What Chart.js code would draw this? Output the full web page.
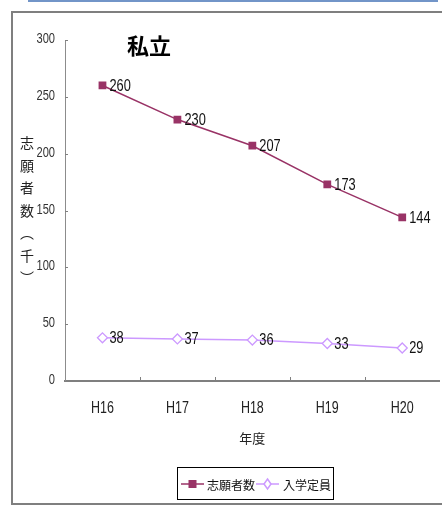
<!DOCTYPE html>
<html>
<head>
<meta charset="utf-8">
<script src="https://cdn.jsdelivr.net/npm/chart.js@4/dist/chart.umd.min.js"></script>
<style>
  html, body { margin: 0; padding: 0; background: #fff; overflow: hidden; }
  #wrap { width: 446px; height: 507px; }
</style>
</head>
<body>
<div id="wrap"><canvas id="c" width="446" height="507"></canvas></div>
<script>
// Fiscal years (Heisei)
const years = ['H16', 'H17', 'H18', 'H19', 'H20'];
// Applicants, thousands
const applicants = [260, 230, 207, 173, 144];
// Enrollment capacity, thousands
const capacity = [38, 37, 36, 33, 29];
const yTicks = [0, 50, 100, 150, 200, 250, 300];

const chartTitle = '私立';
const yTitle = ['志', '願', '者', '数', '︵', '千', '︶'];
const xTitle = '年度';

const SANS = '"Liberation Sans", Arial, sans-serif';
const CJK = '"Noto Sans CJK JP", "Noto Sans CJK SC", sans-serif';

const colA = '#993366';
const colB = '#cc99ff';

// condensed text: regular face squeezed horizontally
function narrowText(ctx, text, x, y, align, squeeze) {
  ctx.save();
  ctx.translate(x, y);
  ctx.scale(squeeze, 1);
  ctx.textAlign = align;
  ctx.fillText(text, 0, 0);
  ctx.restore();
}

// Page frame, title, axis labels, inward tick marks, value labels and legend
const decor = {
  id: 'decor',
  beforeDraw(chart) {
    const ctx = chart.ctx;
    ctx.save();
    ctx.fillStyle = '#fff';
    ctx.fillRect(0, 0, chart.width, chart.height);
    ctx.fillStyle = '#7295c8';
    ctx.fillRect(28, 0, 410, 2);
    ctx.strokeStyle = '#7f7f7f';
    ctx.lineWidth = 2;
    ctx.beginPath();
    ctx.moveTo(chart.width, 12);
    ctx.lineTo(12, 12);
    ctx.lineTo(12, 504);
    ctx.lineTo(chart.width, 504);
    ctx.stroke();
    ctx.restore();
  },
  afterDraw(chart) {
    const ctx = chart.ctx;
    const x = chart.scales.x, y = chart.scales.y;
    const area = chart.chartArea;
    ctx.save();
    // tick marks pointing into the plot
    ctx.strokeStyle = '#808080';
    ctx.lineWidth = 1;
    ctx.beginPath();
    yTicks.forEach(v => {
      const py = Math.round(y.getPixelForValue(v)) + 0.5;
      ctx.moveTo(area.left, py);
      ctx.lineTo(area.left + 3, py);
    });
    const w = (area.right - area.left) / years.length;
    for (let i = 1; i < years.length; i++) {
      const px = Math.round(area.left + i * w) + 0.5;
      ctx.moveTo(px, area.bottom);
      ctx.lineTo(px, area.bottom - 4);
    }
    ctx.stroke();

    ctx.textBaseline = 'middle';
    // y tick labels
    ctx.fillStyle = '#333';
    ctx.font = '15px ' + SANS;
    yTicks.forEach(v => narrowText(ctx, String(v), 55, y.getPixelForValue(v) - 1, 'right', 0.74));

    // x tick labels
    ctx.fillStyle = '#222';
    ctx.font = '16px ' + SANS;
    years.forEach((lab, i) => narrowText(ctx, lab, x.getPixelForValue(i), 409, 'center', 0.78));

    // value labels
    ctx.fillStyle = '#111';
    ctx.font = '16px ' + SANS;
    chart.data.datasets.forEach((ds, di) => {
      chart.getDatasetMeta(di).data.forEach((pt, i) => {
        narrowText(ctx, String(ds.data[i]), pt.x + 7, pt.y + 1, 'left', 0.8);
      });
    });

    // chart title
    ctx.fillStyle = '#000';
    ctx.font = 'bold 22px ' + CJK;
    ctx.textAlign = 'left';
    ctx.fillText(chartTitle, 127, 46);

    // vertical y-axis title
    ctx.font = '14px ' + CJK;
    ctx.textAlign = 'center';
    ctx.fillStyle = '#222';
    yTitle.forEach((ch, i) => ctx.fillText(ch, 27, 143 + i * 22.5));

    // x-axis title
    ctx.font = '13px ' + CJK;
    ctx.fillText(xTitle, x.getPixelForValue(2), 438);

    // legend
    ctx.strokeStyle = '#000';
    ctx.lineWidth = 1;
    ctx.strokeRect(177.5, 467.5, 156, 32);
    const ly = 484;
    ctx.lineWidth = 1.5;
    ctx.strokeStyle = colA;
    ctx.beginPath(); ctx.moveTo(181, ly); ctx.lineTo(204, ly); ctx.stroke();
    ctx.fillStyle = colA;
    ctx.fillRect(188.5, ly - 4, 8, 8);
    ctx.strokeStyle = colB;
    ctx.beginPath(); ctx.moveTo(256, ly); ctx.lineTo(279, ly); ctx.stroke();
    ctx.fillStyle = '#fff';
    ctx.beginPath();
    ctx.moveTo(267.5, ly - 5); ctx.lineTo(271, ly); ctx.lineTo(267.5, ly + 5); ctx.lineTo(264, ly);
    ctx.closePath(); ctx.fill(); ctx.stroke();
    ctx.fillStyle = '#111';
    ctx.font = '12px ' + CJK;
    ctx.textAlign = 'left';
    ctx.fillText(chart.data.datasets[0].label, 207, ly + 1);
    ctx.fillText(chart.data.datasets[1].label, 283, ly + 1);
    ctx.restore();
  }
};

new Chart(document.getElementById('c'), {
  type: 'line',
  data: {
    labels: years,
    datasets: [
      {
        label: '志願者数',
        data: applicants,
        borderColor: colA,
        backgroundColor: colA,
        borderWidth: 1.5,
        pointStyle: 'rect',
        pointRadius: 5.5,
        pointBorderWidth: 0,
        pointBackgroundColor: colA,
        tension: 0
      },
      {
        label: '入学定員',
        data: capacity,
        borderColor: colB,
        backgroundColor: '#fff',
        borderWidth: 1.5,
        pointStyle: 'rectRot',
        pointRadius: 5,
        pointBorderWidth: 1.3,
        pointBorderColor: colB,
        pointBackgroundColor: '#fff',
        tension: 0
      }
    ]
  },
  options: {
    responsive: false,
    animation: false,
    layout: { padding: { left: 0, top: 40, right: 1, bottom: 0 } },
    plugins: {
      legend: { display: false },
      title: { display: false },
      tooltip: { enabled: false }
    },
    scales: {
      x: {
        type: 'category',
        offset: true,
        grid: { display: false, drawTicks: false },
        border: { display: true, color: '#7f7f7f', width: 2 },
        ticks: { display: false },
        afterFit(s) { s.height = 126; }
      },
      y: {
        min: 0,
        max: 300,
        grid: { display: false, drawTicks: false },
        border: { display: true, color: '#8c8c8c', width: 1 },
        ticks: { display: false, stepSize: 50 },
        afterFit(s) { s.width = 65; }
      }
    }
  },
  plugins: [decor]
});
</script>
</body>
</html>
